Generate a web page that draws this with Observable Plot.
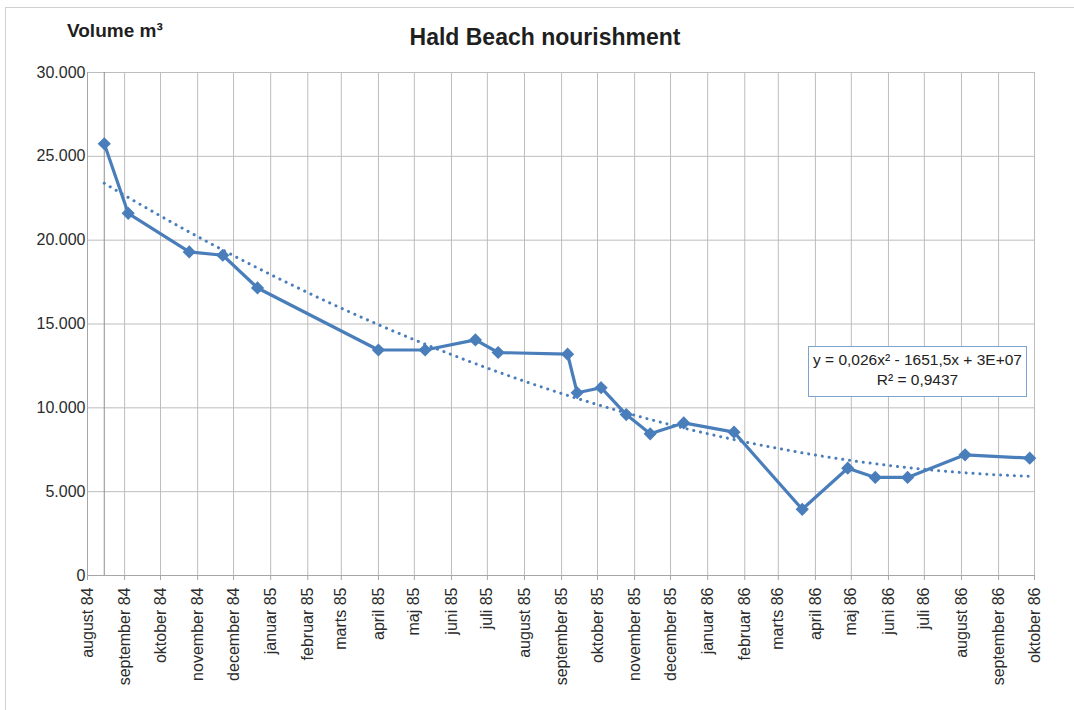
<!DOCTYPE html>
<html><head><meta charset="utf-8">
<script src="https://cdn.jsdelivr.net/npm/d3@7"></script>
<script src="https://cdn.jsdelivr.net/npm/@observablehq/plot@0.6"></script>
<style>
body{margin:0;background:#fff;font-family:"Liberation Sans",Arial,sans-serif;}
#wrap{position:relative;width:1074px;height:710px;overflow:hidden;background:#fff;}
#border{position:absolute;left:5px;top:7px;width:1080px;height:720px;border:1px solid #d0d0d0;}
#title{position:absolute;left:0;width:1090px;top:26px;text-align:center;font-weight:bold;font-size:23px;line-height:1;color:#1f1f1f;}
#ylabel{position:absolute;left:67px;top:21px;font-weight:bold;font-size:19px;line-height:1;color:#1f1f1f;}
#eq{position:absolute;left:808px;top:346px;width:217px;height:46px;border:1px solid #7ea3d2;background:#fff;text-align:center;font-size:15.5px;line-height:20px;color:#222;padding-top:3px;box-sizing:content-box;}
#chart{position:absolute;left:0;top:0;}
</style></head><body>
<div id="wrap">
  <div id="border"></div>
  <div id="chart"></div>
  <div id="title"></div>
  <div id="ylabel"></div>
  <div id="eq"></div>
</div>
<script>
// ---- data ----
const chartTitle = "Hald Beach nourishment";
const yAxisTitle = "Volume m³";
const dates = ["1984-08-15","1984-09-04","1984-10-25","1984-11-22","1984-12-21","1985-04-01","1985-05-10","1985-06-21","1985-07-10","1985-09-06","1985-09-14","1985-10-04","1985-10-25","1985-11-14","1985-12-12","1986-01-23","1986-03-21","1986-04-28","1986-05-21","1986-06-17","1986-08-04","1986-09-27"];
const volumes = [25750,21600,19300,19100,17150,13450,13450,14050,13300,13200,10900,11200,9600,8450,9100,8550,3950,6400,5850,5850,7200,7000];
const monthNames = ["januar","februar","marts","april","maj","juni","juli","august","september","oktober","november","december"];
const axisStart = "1984-08-01";
const axisEnd = "1986-10-01";
const yTicks = [0,5000,10000,15000,20000,25000,30000];
const trendLabel = ["y = 0,026x² - 1651,5x + 3E+07", "R² = 0,9437"];

// ---- build ----
const color = "#4a7ebb";
const data = dates.map((d,i)=>({date:new Date(d+"T00:00:00Z"), value:volumes[i]}));
const xStart = new Date(axisStart+"T00:00:00Z"), xEnd = new Date(axisEnd+"T00:00:00Z");
const monthTicks = d3.utcMonth.range(xStart, d3.utcDay.offset(xEnd,1));
const monthFmt = d => monthNames[d.getUTCMonth()] + " " + String(d.getUTCFullYear()).slice(2);
const dk = d3.formatLocale({decimal:",",thousands:".",grouping:[3],currency:["","kr"]});
const yFmt = dk.format(",");

// quadratic least-squares trend (polynomial order 2)
const t0 = data[0].date;
const xs = data.map(d=>(d.date - t0)/864e5), ys = data.map(d=>d.value);
const S = k => d3.sum(xs, x=>x**k);
const Sy = k => d3.sum(xs.map((x,i)=>x**k*ys[i]));
const A = [[S(4),S(3),S(2)],[S(3),S(2),S(1)],[S(2),S(1),S(0)]];
const B = [Sy(2),Sy(1),Sy(0)];
function solve(A,B){
  const n=3, M=A.map((r,i)=>[...r,B[i]]);
  for(let i=0;i<n;i++){
    let p=i; for(let j=i+1;j<n;j++) if(Math.abs(M[j][i])>Math.abs(M[p][i])) p=j;
    [M[i],M[p]]=[M[p],M[i]];
    for(let j=i+1;j<n;j++){const f=M[j][i]/M[i][i]; for(let k=i;k<=n;k++) M[j][k]-=f*M[i][k];}
  }
  const r=[0,0,0];
  for(let i=n-1;i>=0;i--){let s=M[i][n]; for(let k=i+1;k<n;k++) s-=M[i][k]*r[k]; r[i]=s/M[i][i];}
  return r;
}
const [qa,qb,qc] = solve(A,B);
const trend = d3.utcDay.range(data[0].date, d3.utcDay.offset(data[data.length-1].date,1))
  .map(d=>{const x=(d-t0)/864e5; return {date:d, value:qa*x*x+qb*x+qc};});

const chart = Plot.plot({
  width:1074, height:710,
  marginLeft:87, marginRight:40, marginTop:72, marginBottom:135,
  style:{fontFamily:"Liberation Sans, Arial, sans-serif", fontSize:"16px", color:"#2b2b2b", background:"transparent"},
  x:{type:"utc", domain:[xStart,xEnd]},
  y:{domain:[0,30000]},
  marks:[
    Plot.gridX(monthTicks,{stroke:"#bdbdbd", strokeOpacity:1}),
    Plot.gridY(yTicks,{stroke:"#bdbdbd", strokeOpacity:1}),
    Plot.ruleX([xStart],{stroke:"#a6a6a6"}),
    Plot.ruleY([0],{stroke:"#a6a6a6"}),
    Plot.ruleX([data[0].date],{stroke:"#8f8f8f"}),
    Plot.axisY(yTicks,{tickFormat:yFmt, tickSize:0, tickPadding:2, label:null, fill:"#2b2b2b", fontSize:16}),
    Plot.axisX(monthTicks,{tickFormat:monthFmt, tickRotate:-90, tickSize:5, tickPadding:7, label:null, stroke:"#a6a6a6", fill:"#2b2b2b", fontSize:16}),
    Plot.line(trend,{x:"date", y:"value", stroke:color, strokeWidth:3, strokeDasharray:"0.1,6.8", strokeLinecap:"round"}),
    Plot.line(data,{x:"date", y:"value", stroke:color, strokeWidth:3.2}),
    Plot.dot(data,{x:"date", y:"value", symbol:"diamond2", r:5, fill:color, stroke:color})
  ]
});
document.getElementById("chart").appendChild(chart);
document.getElementById("title").textContent = chartTitle;
document.getElementById("ylabel").textContent = yAxisTitle;
document.getElementById("eq").innerHTML = trendLabel.map(s=>`<div>${s}</div>`).join("");
</script>
</body></html>
